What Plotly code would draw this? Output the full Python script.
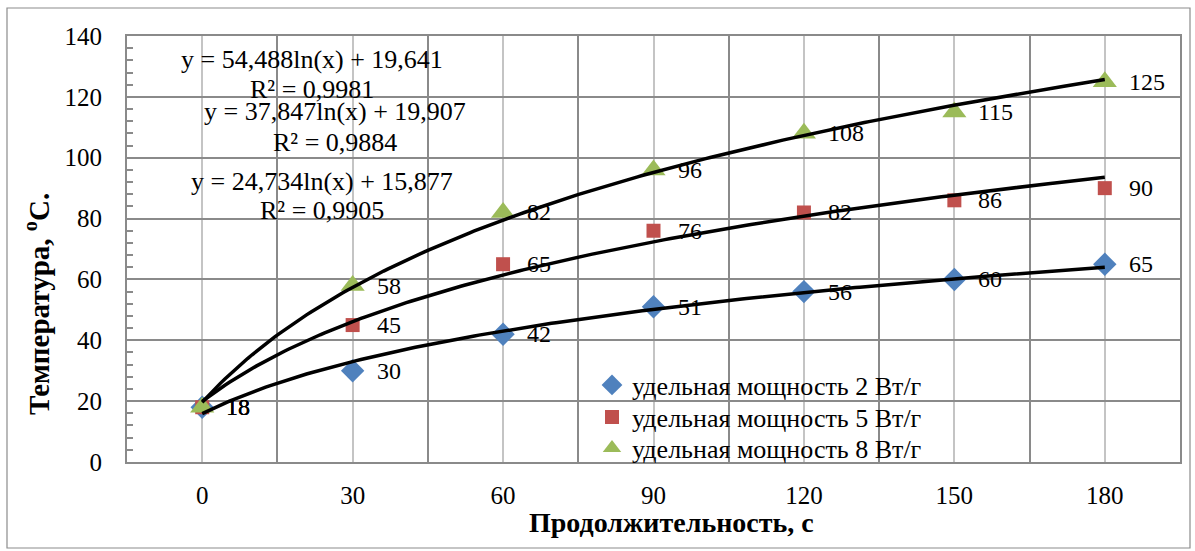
import numpy as np
import plotly.graph_objects as go

categories = ["0", "30", "60", "90", "120", "150", "180"]
series_names = ["удельная мощность 2 Вт/г", "удельная мощность 5 Вт/г", "удельная мощность 8 Вт/г"]
values_2 = [18, 30, 42, 51, 56, 60, 65]
values_5 = [18, 45, 65, 76, 82, 86, 90]
values_8 = [18, 58, 82, 96, 108, 115, 125]
trend_a = [24.734, 37.847, 54.488]
trend_b = [15.877, 19.907, 19.641]
trend_r2 = ["0,9905", "0,9884", "0,9981"]

colors = ["#4F81BD", "#C0504D", "#9BBB59"]
symbols = ["diamond", "square", "triangle-up"]
sizes = [18, 14, 21]
FONT = "Liberation Serif, Times New Roman, serif"

L, R, T, B = 127, 1180, 36, 462
W, H = R - L, B - T

idx = np.arange(1, len(categories) + 1)
all_values = [values_2, values_5, values_8]
legend_ids = ["legend", "legend2", "legend3"]
legend_rows = [385, 417, 448]

fig = go.Figure()
for vals, name, c, s, sz, lg in zip(all_values, series_names, colors, symbols, sizes, legend_ids):
    fig.add_trace(go.Scatter(x=idx, y=vals, mode="markers", name=name, legend=lg,
                             marker=dict(color=c, symbol=s, size=sz, line=dict(width=0))))

xs = np.linspace(1, len(categories), 200)
for a, b in zip(trend_a, trend_b):
    fig.add_trace(go.Scatter(x=xs, y=a * np.log(xs) + b, mode="lines", showlegend=False,
                             line=dict(color="black", width=3.5), hoverinfo="skip"))

annotations = []
for vals in all_values:
    for xi, v in zip(idx, vals):
        annotations.append(dict(x=xi, y=v, text=str(v), showarrow=False, xanchor="left",
                                yanchor="middle", xshift=22, font=dict(family=FONT, size=24, color="black")))

eq_pos = [(322, 182, 210), (335, 111, 142), (312, 59, 89)]
for (a, b, r2), (cx, ey, ry) in zip(zip(trend_a, trend_b, trend_r2), eq_pos):
    eq = "y = " + f"{a:.3f}".replace(".", ",") + "ln(x) + " + f"{b:.3f}".replace(".", ",")
    annotations.append(dict(x=(cx - L) / W, y=(B - ey) / H, xref="paper", yref="paper", text=eq,
                            showarrow=False, xanchor="center", yanchor="middle",
                            font=dict(family=FONT, size=26, color="black")))
    annotations.append(dict(x=(cx - L) / W, y=(B - ry) / H, xref="paper", yref="paper", text="R² = " + r2,
                            showarrow=False, xanchor="center", yanchor="middle",
                            font=dict(family=FONT, size=26, color="black")))

annotations.append(dict(x=(37 - L) / W, y=(B - 304) / H, xref="paper", yref="paper",
                        text="<b>Температура, <sup>o</sup>С.</b>", textangle=-90, showarrow=False,
                        xanchor="center", yanchor="middle", font=dict(family=FONT, size=29, color="black")))
annotations.append(dict(x=(671 - L) / W, y=(B - 522) / H, xref="paper", yref="paper",
                        text="<b>Продолжительность, с</b>", showarrow=False,
                        xanchor="center", yanchor="middle", font=dict(family=FONT, size=28, color="black")))

legend_common = dict(xanchor="left", yanchor="middle", bgcolor="rgba(0,0,0,0)",
                     font=dict(family=FONT, size=26, color="black"), itemsizing="trace",
                     borderwidth=0)
layout_legends = {}
for lg, row in zip(legend_ids, legend_rows):
    layout_legends[lg] = dict(x=(592 - L) / W, y=(B - row) / H, **legend_common)

fig.update_layout(
    width=1195, height=551,
    margin=dict(l=L, r=1195 - R, t=T, b=551 - B),
    paper_bgcolor="white", plot_bgcolor="white",
    font=dict(family=FONT, size=24, color="black"),
    showlegend=True,
    annotations=annotations,
    shapes=[dict(type="rect", xref="paper", yref="paper",
                 x0=(7 - L) / W, x1=(1190 - L) / W, y0=(B - 548) / H, y1=(B - 8) / H,
                 line=dict(color="#8C8C8C", width=1.2), fillcolor="rgba(0,0,0,0)", layer="below")],
    **layout_legends,
)
fig.update_xaxes(range=[0.5, len(categories) + 0.5], tickmode="array", tickvals=idx, ticktext=categories,
                 showgrid=True, gridcolor="#C4C4C4", gridwidth=1.5,
                 minor=dict(tick0=0.5, dtick=1, showgrid=True, gridcolor="#8A8A8A", gridwidth=1.5, ticks=""),
                 showline=True, linecolor="#8A8A8A", linewidth=2, mirror=True, ticks="",
                 ticklabelstandoff=10, zeroline=False, tickfont=dict(family=FONT, size=25, color="black"))
fig.update_yaxes(range=[0, 140], dtick=20, tick0=0, showgrid=True, gridcolor="#8A8A8A", gridwidth=1.5,
                 minor=dict(dtick=4, ticks="inside", ticklen=6, tickcolor="#8A8A8A", tickwidth=1.5, showgrid=False),
                 showline=True, linecolor="#8A8A8A", linewidth=2, mirror=True, ticks="",
                 ticklabelstandoff=18, zeroline=False, tickfont=dict(family=FONT, size=25, color="black"))

fig.write_html("out.html")
